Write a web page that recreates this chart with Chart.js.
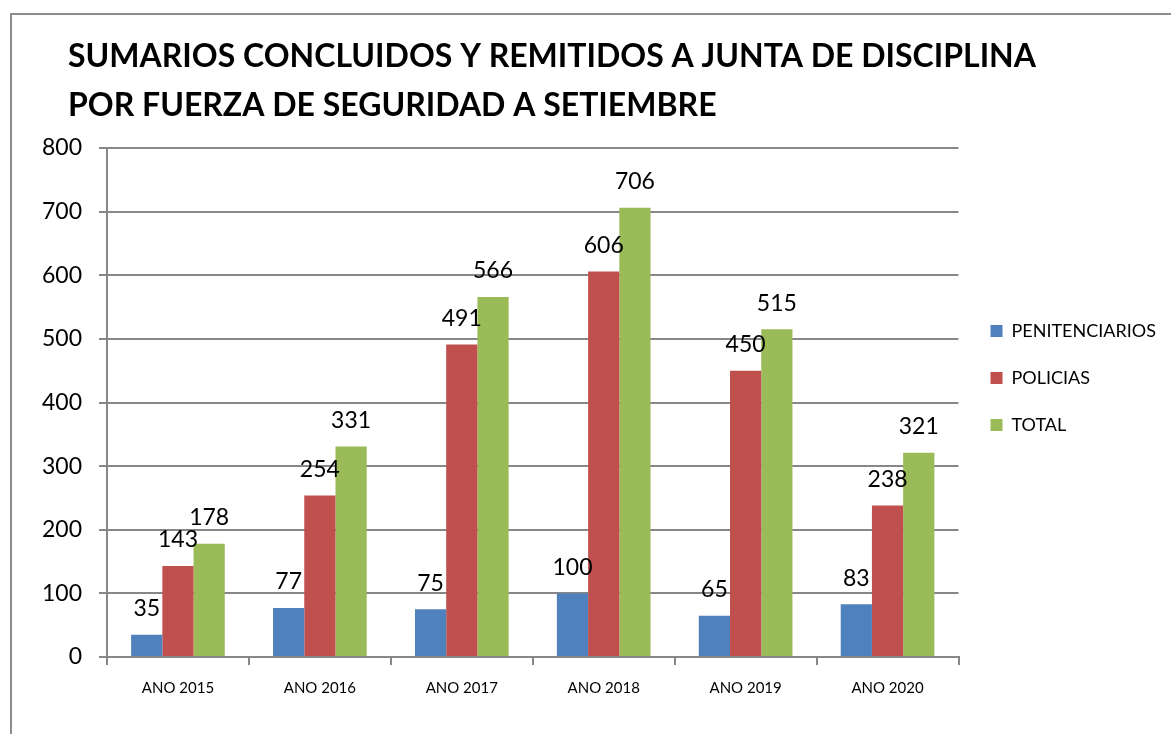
<!DOCTYPE html>
<html>
<head>
<meta charset="utf-8">
<script src="https://cdn.jsdelivr.net/npm/chart.js@4.4.0/dist/chart.umd.min.js"></script>
<style>
  html, body { margin: 0; padding: 0; background: #fff; }
  body { width: 1171px; height: 734px; overflow: hidden; position: relative; }
  #frame { position: absolute; left: 10px; top: 13px; width: 1200px; height: 760px; border: 2px solid #8c8c8c; }
  #wrap { position: absolute; left: 0; top: 0; width: 1171px; height: 734px; }
</style>
</head>
<body>
<div id="frame"></div>
<div id="wrap"><canvas id="myChartSumarios" width="1171" height="734"></canvas></div>
<script>
// data
const years = ['ANO 2015', 'ANO 2016', 'ANO 2017', 'ANO 2018', 'ANO 2019', 'ANO 2020'];
const penitenciarios = [35, 77, 75, 100, 65, 83];
const policias = [143, 254, 491, 606, 450, 238];
const total = [178, 331, 566, 706, 515, 321];
const seriesNames = ['PENITENCIARIOS', 'POLICIAS', 'TOTAL'];
const titleLines = [
    'SUMARIOS CONCLUIDOS Y REMITIDOS A JUNTA DE DISCIPLINA',
    'POR FUERZA DE SEGURIDAD A SETIEMBRE'
];

const gridGray = '#878787';
const fontName = 'Lato, "Open Sans", sans-serif';

// title is left aligned with its own indent, so draw it by hand
const titlePlugin = {
    id: 'tituloSumarios',
    afterDraw(chart) {
        const ctx = chart.ctx;
        ctx.save();
        ctx.font = 'bold 32px ' + fontName;
        ctx.fillStyle = '#000';
        ctx.textAlign = 'left';
        ctx.textBaseline = 'alphabetic';
        titleLines.forEach((line, i) => ctx.fillText(line, 68, 67 + i * 49));
        ctx.restore();
    }
};

// value labels above each bar
const valueLabels = {
    id: 'valueLabels',
    afterDatasetsDraw(chart) {
        const ctx = chart.ctx;
        ctx.save();
        ctx.font = '23px ' + fontName;
        ctx.fillStyle = '#000';
        ctx.textAlign = 'center';
        ctx.textBaseline = 'middle';
        chart.data.datasets.forEach((ds, di) => {
            chart.getDatasetMeta(di).data.forEach((bar, i) => {
                ctx.fillText(ds.data[i], bar.x, bar.y - 26);
            });
        });
        ctx.restore();
    }
};

// nudge the legend a bit up / right like in the original
const legendNudge = {
    id: 'legendNudge',
    afterLayout(chart) {
        const lg = chart.legend;
        lg.left += 3; lg.right += 3;
        lg.top -= 63; lg.bottom -= 63;
    }
};

const ctx = document.getElementById('myChartSumarios').getContext('2d');
const chart = new Chart(ctx, {
    type: 'bar',
    data: {
        labels: years,
        datasets: [{
            label: seriesNames[0],
            data: penitenciarios,
            backgroundColor: '#4F81BD'
        }, {
            label: seriesNames[1],
            data: policias,
            backgroundColor: '#C0504D'
        }, {
            label: seriesNames[2],
            data: total,
            backgroundColor: '#9BBB59'
        }]
    },
    options: {
        responsive: false,
        animation: false,
        datasets: {
            bar: { categoryPercentage: 0.66, barPercentage: 1.0, borderWidth: 0 }
        },
        layout: { padding: { left: 20, right: 8, top: 148, bottom: 0 } },
        plugins: {
            title: { display: false },
            tooltip: { enabled: false },
            legend: {
                position: 'right',
                align: 'center',
                labels: {
                    boxWidth: 12,
                    boxHeight: 12,
                    padding: 29,
                    color: '#000',
                    font: { family: fontName, size: 18 }
                }
            }
        },
        scales: {
            x: {
                afterFit: (scale) => { scale.height = 77; },
                grid: {
                    drawOnChartArea: false,
                    drawTicks: true,
                    tickLength: 8,
                    color: gridGray,
                    lineWidth: 2
                },
                border: { display: true, color: gridGray, width: 2 },
                ticks: {
                    color: '#000',
                    padding: 14,
                    font: { family: fontName, size: 15 }
                }
            },
            y: {
                min: 0,
                max: 800,
                afterFit: (scale) => { scale.width = 87; },
                grid: {
                    color: gridGray,
                    lineWidth: 2,
                    tickLength: 8
                },
                border: { display: true, color: gridGray, width: 2 },
                ticks: {
                    stepSize: 100,
                    color: '#000',
                    padding: 17,
                    font: { family: fontName, size: 23 }
                }
            }
        }
    },
    plugins: [titlePlugin, valueLabels, legendNudge]
});
</script>
</body>
</html>
